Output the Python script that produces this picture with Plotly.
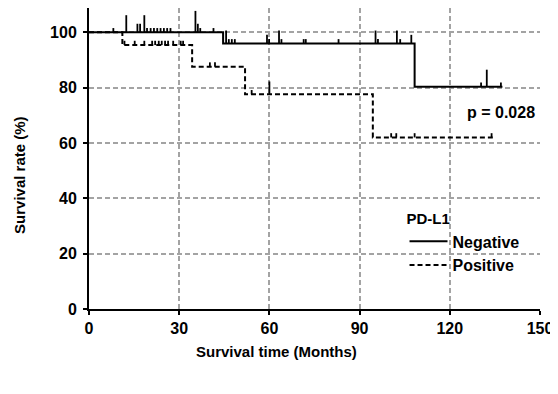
import plotly.graph_objects as go

# ---------------- data ----------------
x_ticks = [0, 30, 60, 90, 120, 150]
y_ticks = [0, 20, 40, 60, 80, 100]

# Negative group (step function)
neg_event_times = [44.6, 108.3]
neg_surv = [100.0, 96.0, 80.3]
neg_end = 137.5
neg_censor_times = [8.1, 12.4, 16.1, 17.0, 18.4, 19.3, 20.5, 21.6, 22.7, 23.8, 24.9, 26.0, 27.1,
                    35.4, 36.2, 37.0, 41.4, 45.6, 46.5, 47.5, 48.5, 59.2, 59.9, 63.2, 64.0,
                    71.4, 72.1, 83.0, 95.3, 96.1, 102.4, 103.5, 107.2, 130.4, 132.3, 137.0]
neg_censor_counts = [1, 4, 2, 2, 4, 1, 1, 1, 1, 1, 1, 1, 1,
                     5, 2, 1, 1, 3, 1, 1, 1, 2, 1, 3, 1,
                     1, 1, 1, 3, 1, 3, 1, 2, 1, 4, 1]

# Positive group
pos_event_times = [11.1, 34.3, 51.9, 94.4]
pos_surv = [100.0, 95.4, 87.6, 77.6, 62.0]
pos_end = 134.3
pos_censor_times = [11.8, 15.2, 18.4, 21.0, 22.0, 23.2, 24.2, 25.3, 26.3, 28.0, 30.5, 31.3,
                    40.2, 41.9, 54.1, 60.0, 100.5, 102.2, 108.3, 133.9]
pos_censor_counts = [1, 1, 1, 1, 1, 1, 1, 1, 1, 1, 1, 1,
                     1, 1, 1, 3, 1, 1, 1, 1]

p_text = "p = 0.028"


def step_xy(events, surv, end):
    xs, ys = [0.0], [surv[0]]
    for t, s_prev, s_new in zip(events, surv[:-1], surv[1:]):
        xs += [t, t]
        ys += [s_prev, s_new]
    xs.append(end)
    ys.append(surv[-1])
    return xs, ys


def level_at(t, events, surv):
    s = surv[0]
    for e, v in zip(events, surv[1:]):
        if t >= e:
            s = v
    return s


def censor_xy(times, counts, events, surv, unit=1.55):
    xs, ys = [], []
    for t, c in zip(times, counts):
        base = level_at(t, events, surv)
        xs += [t, t, None]
        ys += [base, base + unit * c, None]
    return xs, ys


FONT = "Liberation Sans, Arial, sans-serif"

fig = go.Figure()

nx, ny = step_xy(neg_event_times, neg_surv, neg_end)
px_, py_ = step_xy(pos_event_times, pos_surv, pos_end)

fig.add_trace(go.Scatter(x=nx, y=ny, mode="lines", name="Negative",
                         line=dict(color="black", width=2)))
fig.add_trace(go.Scatter(x=px_, y=py_, mode="lines", name="Positive",
                         line=dict(color="black", width=2, dash="5px,3px")))

ncx, ncy = censor_xy(neg_censor_times, neg_censor_counts, neg_event_times, neg_surv)
pcx, pcy = censor_xy(pos_censor_times, pos_censor_counts, pos_event_times, pos_surv)
fig.add_trace(go.Scatter(x=ncx, y=ncy, mode="lines", showlegend=False,
                         line=dict(color="black", width=1.8), hoverinfo="skip"))
fig.add_trace(go.Scatter(x=pcx, y=pcy, mode="lines", showlegend=False,
                         line=dict(color="black", width=1.8), hoverinfo="skip"))

axis_common = dict(showline=True, linecolor="black", linewidth=2, automargin=False,
                   ticks="outside", ticklen=4, tickwidth=2, tickcolor="black",
                   zeroline=False,
                   tickfont=dict(family=FONT, size=16, color="black", weight="bold"))

fig.update_layout(
    width=550, height=378,
    margin=dict(l=81, r=17.5, t=0, b=76.7),
    paper_bgcolor="white", plot_bgcolor="white",
    xaxis=dict(range=[0, 150], tickvals=x_ticks, showgrid=True,
               gridcolor="#a3a3a3", gridwidth=1.5, griddash="5px,3px", **axis_common),
    yaxis=dict(range=[0, 108.8], tickvals=y_ticks, showgrid=True, ticklabelstandoff=3,
               gridcolor="#a3a3a3", gridwidth=1.5, griddash="5px,3px", **axis_common),
    xaxis2=dict(range=[0, 150], tickvals=x_ticks, overlaying="x", side="bottom",
                anchor="y", showticklabels=False, showgrid=False, showline=False,
                automargin=False,
                ticks="inside", ticklen=4, tickwidth=2, tickcolor="black", zeroline=False),
    yaxis2=dict(range=[0, 108.8], tickvals=y_ticks, overlaying="y", side="left",
                anchor="x", showticklabels=False, showgrid=False, showline=False,
                automargin=False,
                ticks="inside", ticklen=4, tickwidth=2, tickcolor="black", zeroline=False),
    showlegend=True,
    legend=dict(x=0.6996, y=0.346, xanchor="left", yanchor="top",
                bgcolor="rgba(0,0,0,0)", borderwidth=0,
                title=dict(text="PD-L1", font=dict(family=FONT, size=15, color="black", weight="bold")),
                font=dict(family=FONT, size=16, color="black", weight="bold"),
                tracegroupgap=0, itemwidth=38),
    annotations=[
        dict(text=p_text, x=137.1, y=71.2, xref="x", yref="y", showarrow=False,
             font=dict(family=FONT, size=16, color="black", weight="bold")),
        dict(text="Survival rate (%)", x=-0.1528, y=0.4457, xref="paper", yref="paper",
             textangle=-90, showarrow=False, xanchor="center", yanchor="middle",
             font=dict(family=FONT, size=15, color="black", weight="bold")),
        dict(text="Survival time (Months)", x=0.416, y=-0.1417,
             xref="paper", yref="paper", showarrow=False, xanchor="center", yanchor="middle",
             font=dict(family=FONT, size=15, color="black", weight="bold")),
    ],
)

fig.write_html("out.html")
